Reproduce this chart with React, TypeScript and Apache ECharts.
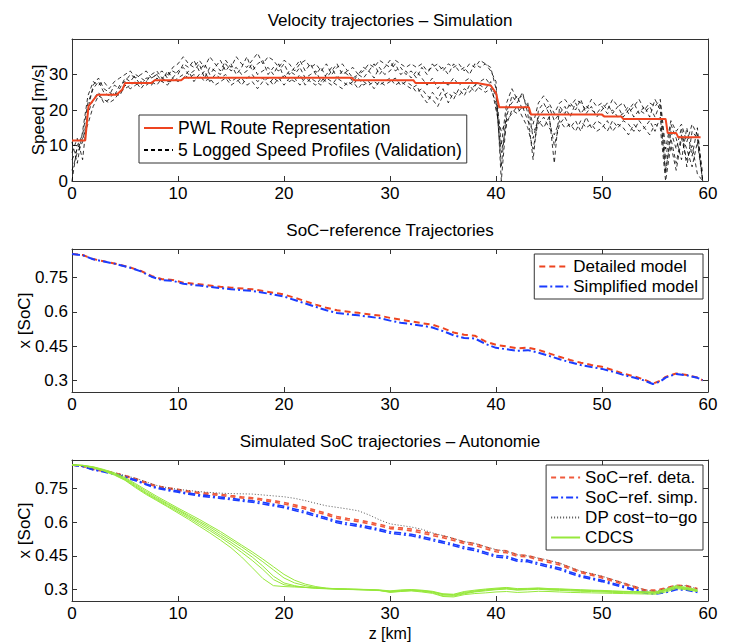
import React, { useEffect, useRef } from "react";
import * as echarts from "echarts";

const FONT = "'Liberation Sans', Arial, Helvetica, sans-serif";

// ---------- Top panel: velocity ----------
const pwlRoute: [number, number][] = [
  [0, 11.4], [1.25, 11.4], [1.55, 21], [2.4, 24.3], [4.2, 24.3], [4.75, 25.8], [5.0, 27.6],
  [7.5, 27.6], [7.8, 28.4], [10.3, 28.4], [10.6, 29.1], [26.4, 29.1], [26.6, 28.4],
  [32.2, 28.4], [32.4, 27.6], [38.2, 27.6], [39.5, 26.9], [40.0, 24.8], [40.3, 20.8],
  [43.1, 20.8], [43.3, 18.7], [50.0, 18.7], [50.2, 18.2], [51.8, 18.2], [52.0, 17.5],
  [56.0, 17.5], [56.2, 13.5], [57.0, 13.5], [57.2, 12.3], [59.3, 12.3],
];

const SPEED_STEP_KM = 0.5;
const speedA = [
  0, 10, 13, 22, 26, 28, 25, 24, 27, 26,
  29, 28, 30, 29, 28, 30, 31, 29, 30, 31,
  30, 33, 32, 34, 31, 33, 30, 32, 34, 31,
  33, 30, 32, 35, 31, 33, 34, 30, 32, 31,
  33, 30, 32, 34, 31, 33, 30, 32, 29, 31,
  33, 30, 31, 29, 30, 32, 31, 33, 30, 32,
  34, 31, 32, 30, 31, 29, 32, 30, 33, 31,
  32, 30, 33, 31, 32, 30, 33, 32, 33, 31,
  28, 0, 18, 24, 22, 25, 19, 6, 20, 22,
  19, 5, 21, 19, 22, 20, 23, 19, 21, 18,
  20, 22, 19, 21, 18, 20, 22, 19, 21, 18,
  23, 20, 2, 14, 9, 15, 4, 14, 12, 0,
];
const speedB = [
  3, 8, 11, 19, 23, 25, 22, 23, 25, 24,
  27, 26, 27, 28, 27, 28, 27, 29, 28, 28,
  29, 30, 29, 30, 29, 31, 28, 30, 29, 30,
  28, 29, 27, 29, 30, 28, 29, 27, 29, 28,
  30, 28, 29, 27, 29, 28, 27, 29, 28, 27,
  29, 28, 27, 28, 26, 28, 27, 28, 27, 28,
  29, 27, 28, 27, 26, 27, 24, 22, 25, 23,
  26, 22, 25, 24, 26, 25, 27, 26, 25, 26,
  22, 8, 16, 20, 19, 21, 17, 14, 16, 18,
  15, 13, 17, 15, 16, 14, 17, 15, 16, 14,
  15, 17, 14, 16, 15, 13, 16, 14, 15, 13,
  16, 15, 0, 10, 3, 12, 6, 10, 2, 0,
];
const speedC = [
  8, 12, 6, 20, 27, 29, 26, 25, 24, 27,
  28, 30, 29, 27, 29, 29, 30, 28, 31, 29,
  31, 32, 30, 31, 33, 29, 32, 31, 30, 33,
  31, 32, 30, 31, 33, 30, 31, 32, 30, 33,
  29, 31, 30, 32, 29, 30, 31, 28, 30, 32,
  29, 31, 30, 28, 30, 29, 31, 29, 32, 30,
  31, 33, 30, 31, 29, 31, 29, 27, 29, 26,
  28, 27, 29, 27, 28, 29, 27, 28, 29, 27,
  24, 4, 20, 22, 24, 20, 22, 12, 18, 20,
  21, 17, 19, 21, 18, 22, 19, 21, 20, 19,
  21, 19, 20, 18, 19, 21, 18, 20, 19, 21,
  18, 22, 6, 16, 12, 6, 15, 7, 15, 0,
];
const speedD = [
  11, 5, 14, 24, 28, 27, 28, 26, 28, 29,
  30, 31, 29, 30, 31, 29, 30, 31, 29, 32,
  33, 35, 33, 32, 34, 32, 35, 33, 31, 34,
  32, 35, 33, 32, 34, 36, 33, 35, 34, 32,
  34, 33, 31, 33, 34, 32, 33, 31, 33, 30,
  32, 33, 31, 32, 30, 31, 33, 32, 34, 33,
  32, 34, 33, 32, 33, 32, 33, 31, 32, 33,
  31, 33, 32, 33, 31, 33, 32, 34, 33, 32,
  26, 10, 22, 26, 23, 24, 21, 16, 22, 24,
  22, 19, 22, 23, 21, 23, 22, 20, 23, 21,
  22, 20, 23, 21, 22, 19, 21, 23, 20, 22,
  21, 23, 9, 17, 14, 16, 11, 16, 13, 2,
];
const speedE = [
  6, 9, 12, 16, 21, 24, 23, 22, 23, 25,
  26, 27, 28, 26, 28, 27, 29, 28, 27, 29,
  28, 29, 31, 28, 30, 28, 29, 27, 28, 29,
  27, 28, 29, 27, 28, 26, 28, 29, 27, 29,
  27, 29, 28, 30, 27, 29, 28, 27, 29, 28,
  27, 26, 28, 27, 29, 27, 28, 26, 28, 27,
  28, 29, 27, 28, 27, 25, 26, 24, 23, 21,
  24, 25, 23, 26, 24, 27, 25, 27, 26, 28,
  20, 14, 17, 19, 21, 18, 15, 9, 17, 15,
  18, 10, 16, 18, 15, 17, 14, 18, 15, 17,
  16, 14, 17, 15, 17, 16, 14, 17, 15, 17,
  14, 18, 3, 12, 5, 13, 9, 4, 11, 0,
];
const loggedProfiles = [speedA, speedB, speedC, speedD, speedE];

// ---------- Middle panel: SoC reference ----------
const refKm = [
  0, 1, 2, 4, 5.5, 6.5, 7.5, 8.5, 9.5, 10.5,
  12, 14, 15, 17, 19, 20, 21, 22, 23, 24,
  25, 27, 29, 30, 31, 33, 34, 35, 36, 37,
  38, 39, 40, 41, 42, 43, 44, 45, 46, 47,
  48, 49, 50, 51, 52, 53, 54, 54.8, 55.5, 56,
  57, 58, 59, 59.5,
];
const detailedModel = [
  0.853, 0.849, 0.831, 0.812, 0.794, 0.779, 0.757, 0.743, 0.740, 0.728,
  0.721, 0.710, 0.706, 0.699, 0.684, 0.676, 0.662, 0.647, 0.632, 0.618,
  0.607, 0.596, 0.584, 0.574, 0.566, 0.551, 0.544, 0.529, 0.510, 0.500,
  0.496, 0.471, 0.456, 0.449, 0.441, 0.444, 0.434, 0.419, 0.404, 0.390,
  0.378, 0.368, 0.360, 0.346, 0.331, 0.319, 0.304, 0.287, 0.299, 0.316,
  0.331, 0.324, 0.313, 0.301,
];
const simplifiedModel = [
  0.853, 0.848, 0.830, 0.811, 0.793, 0.777, 0.754, 0.739, 0.736, 0.723,
  0.715, 0.704, 0.699, 0.692, 0.676, 0.667, 0.652, 0.637, 0.622, 0.607,
  0.595, 0.585, 0.573, 0.562, 0.553, 0.540, 0.532, 0.516, 0.498, 0.486,
  0.484, 0.460, 0.443, 0.437, 0.430, 0.433, 0.422, 0.408, 0.393, 0.380,
  0.368, 0.359, 0.351, 0.339, 0.325, 0.313, 0.300, 0.285, 0.296, 0.313,
  0.329, 0.323, 0.312, 0.301,
];

// ---------- Bottom panel: simulated SoC (1 km samples) ----------
const SIM_STEP_KM = 1;
const socRefDeta1 = [
  0.853, 0.848, 0.835, 0.828, 0.818, 0.806, 0.793, 0.776, 0.760, 0.752,
  0.745, 0.737, 0.731, 0.727, 0.723, 0.717, 0.712, 0.708, 0.702, 0.695,
  0.687, 0.676, 0.665, 0.652, 0.639, 0.624, 0.616, 0.609, 0.600, 0.590,
  0.578, 0.574, 0.569, 0.559, 0.548, 0.538, 0.526, 0.512, 0.505, 0.490,
  0.476, 0.472, 0.455, 0.452, 0.439, 0.428, 0.417, 0.398, 0.381, 0.370,
  0.358, 0.344, 0.330, 0.315, 0.300, 0.298, 0.308, 0.320, 0.318, 0.305,
];
const socRefDeta2 = [
  0.853, 0.847, 0.833, 0.825, 0.815, 0.802, 0.789, 0.771, 0.756, 0.749,
  0.741, 0.733, 0.727, 0.722, 0.718, 0.712, 0.707, 0.703, 0.696, 0.689,
  0.680, 0.669, 0.658, 0.645, 0.632, 0.617, 0.609, 0.602, 0.593, 0.583,
  0.571, 0.567, 0.561, 0.551, 0.540, 0.530, 0.518, 0.505, 0.497, 0.482,
  0.468, 0.464, 0.448, 0.446, 0.432, 0.421, 0.410, 0.392, 0.375, 0.364,
  0.352, 0.338, 0.324, 0.310, 0.296, 0.293, 0.303, 0.315, 0.314, 0.302,
];
const socRefSimp1 = [
  0.853, 0.847, 0.833, 0.825, 0.814, 0.801, 0.787, 0.769, 0.753, 0.745,
  0.737, 0.728, 0.721, 0.716, 0.711, 0.705, 0.699, 0.694, 0.687, 0.679,
  0.670, 0.658, 0.646, 0.633, 0.619, 0.604, 0.595, 0.588, 0.579, 0.569,
  0.557, 0.552, 0.546, 0.536, 0.525, 0.514, 0.502, 0.489, 0.481, 0.466,
  0.452, 0.448, 0.433, 0.431, 0.418, 0.407, 0.396, 0.379, 0.363, 0.353,
  0.342, 0.329, 0.316, 0.303, 0.290, 0.284, 0.292, 0.305, 0.303, 0.292,
];
const socRefSimp2 = [
  0.853, 0.846, 0.831, 0.822, 0.811, 0.797, 0.783, 0.765, 0.749, 0.740,
  0.732, 0.723, 0.716, 0.710, 0.705, 0.699, 0.693, 0.688, 0.680, 0.672,
  0.663, 0.651, 0.639, 0.626, 0.612, 0.597, 0.588, 0.581, 0.572, 0.562,
  0.550, 0.545, 0.539, 0.529, 0.518, 0.507, 0.495, 0.482, 0.474, 0.459,
  0.445, 0.441, 0.426, 0.424, 0.411, 0.400, 0.389, 0.372, 0.357, 0.347,
  0.336, 0.323, 0.310, 0.298, 0.286, 0.280, 0.287, 0.300, 0.298, 0.288,
];
const dpCostToGo = [
  0.853, 0.848, 0.836, 0.829, 0.819, 0.806, 0.794, 0.778, 0.762, 0.752,
  0.745, 0.740, 0.735, 0.731, 0.728, 0.726, 0.725, 0.724, 0.720, 0.716,
  0.712, 0.705, 0.695, 0.683, 0.672, 0.665, 0.658, 0.650, 0.632, 0.610,
  0.592, 0.585, 0.578, 0.568, 0.552, 0.540, 0.527, 0.513, 0.505, 0.491,
  0.478, 0.470, 0.455, 0.450, 0.440, 0.430, 0.418, 0.400, 0.382, 0.371,
  0.360, 0.345, 0.330, 0.315, 0.300, 0.293, 0.305, 0.320, 0.318, 0.303,
];
const cdcs1 = [
  0.853, 0.850, 0.840, 0.826, 0.808, 0.785, 0.752, 0.722, 0.695, 0.668,
  0.640, 0.612, 0.582, 0.552, 0.520, 0.486, 0.445, 0.398, 0.350, 0.318,
  0.314, 0.312, 0.310, 0.308, 0.306, 0.305, 0.303, 0.302, 0.300, 0.297,
  0.290, 0.293, 0.295, 0.290, 0.284, 0.270, 0.268, 0.278, 0.283, 0.286,
  0.290, 0.292, 0.288, 0.290, 0.293, 0.292, 0.290, 0.288, 0.287, 0.286,
  0.285, 0.284, 0.283, 0.282, 0.281, 0.280, 0.290, 0.305, 0.300, 0.292,
];
const cdcs2 = [
  0.853, 0.851, 0.843, 0.830, 0.812, 0.790, 0.760, 0.730, 0.703, 0.678,
  0.652, 0.625, 0.598, 0.570, 0.540, 0.510, 0.478, 0.445, 0.405, 0.360,
  0.330, 0.318, 0.310, 0.306, 0.304, 0.302, 0.301, 0.300, 0.298, 0.296,
  0.292, 0.296, 0.298, 0.295, 0.290, 0.278, 0.275, 0.285, 0.292, 0.298,
  0.302, 0.305, 0.300, 0.302, 0.304, 0.301, 0.300, 0.298, 0.296, 0.295,
  0.293, 0.291, 0.290, 0.289, 0.288, 0.287, 0.298, 0.312, 0.305, 0.296,
];
const cdcs3 = [
  0.853, 0.852, 0.845, 0.833, 0.818, 0.797, 0.770, 0.742, 0.714, 0.688,
  0.662, 0.637, 0.612, 0.585, 0.558, 0.528, 0.498, 0.468, 0.436, 0.402,
  0.368, 0.342, 0.325, 0.314, 0.307, 0.304, 0.303, 0.302, 0.301, 0.299,
  0.295, 0.299, 0.301, 0.298, 0.293, 0.282, 0.280, 0.292, 0.298, 0.303,
  0.307, 0.310, 0.305, 0.306, 0.308, 0.305, 0.304, 0.302, 0.300, 0.298,
  0.297, 0.295, 0.293, 0.292, 0.291, 0.290, 0.302, 0.318, 0.310, 0.300,
];
const cdcs4 = [
  0.853, 0.850, 0.841, 0.828, 0.810, 0.787, 0.756, 0.726, 0.699, 0.672,
  0.646, 0.619, 0.590, 0.562, 0.532, 0.500, 0.466, 0.430, 0.390, 0.345,
  0.322, 0.315, 0.311, 0.308, 0.305, 0.303, 0.302, 0.300, 0.299, 0.297,
  0.288, 0.292, 0.296, 0.293, 0.287, 0.273, 0.272, 0.282, 0.290, 0.295,
  0.300, 0.303, 0.298, 0.300, 0.302, 0.299, 0.297, 0.295, 0.293, 0.292,
  0.290, 0.288, 0.287, 0.286, 0.285, 0.284, 0.295, 0.309, 0.303, 0.294,
];
const cdcs5 = [
  0.853, 0.851, 0.844, 0.831, 0.814, 0.793, 0.765, 0.736, 0.708, 0.682,
  0.656, 0.630, 0.604, 0.578, 0.549, 0.520, 0.490, 0.458, 0.424, 0.388,
  0.352, 0.330, 0.318, 0.310, 0.306, 0.304, 0.302, 0.301, 0.300, 0.298,
  0.293, 0.297, 0.299, 0.296, 0.291, 0.280, 0.278, 0.288, 0.295, 0.300,
  0.304, 0.308, 0.302, 0.304, 0.306, 0.303, 0.302, 0.300, 0.298, 0.297,
  0.295, 0.293, 0.292, 0.291, 0.289, 0.288, 0.300, 0.315, 0.307, 0.297,
];

const xTicks = { min: 0, max: 60, interval: 10 };
const speedTicks = [0, 10, 20, 30];
const socTicks = [0.3, 0.45, 0.6, 0.75];

const titles = [
  "Velocity trajectories \u2013 Simulation",
  "SoC\u2212reference Trajectories",
  "Simulated SoC trajectories \u2013 Autonomie",
];

const PWL_NAME = "PWL Route Representation";
const LOG_NAME = "5 Logged Speed Profiles (Validation)";
const DET_NAME = "Detailed model";
const SIMP_NAME = "Simplified model";
const SD_NAME = "SoC\u2212ref. deta.";
const SS_NAME = "SoC\u2212ref. simp.";
const DP_NAME = "DP cost\u2212to\u2212go";
const CD_NAME = "CDCS";

const RED = "#ee4420";
const BLUE = "#1a3cff";
const GREEN = "#97e83c";

function onGrid(values: number[], step: number): [number, number][] {
  return values.map((v, i) => [i * step, v]);
}
function zipXY(xs: number[], ys: number[]): [number, number][] {
  return xs.map((x, i) => [x, ys[i]]);
}

export default function App() {
  const ref = useRef<HTMLDivElement>(null);

  useEffect(() => {
    document.body.style.margin = "0";
    if (!ref.current) return;
    const chart = echarts.init(ref.current, undefined, { renderer: "svg" });

    const grids = [
      { left: 72, right: 28, top: 39, height: 142 },
      { left: 72, right: 28, top: 249, height: 143 },
      { left: 72, right: 28, top: 460, height: 141 },
    ];

    const axisLineStyle = { color: "#333", width: 1 };
    const labelStyle = { color: "#000", fontSize: 17, fontFamily: FONT };
    const nameStyle = { color: "#000", fontSize: 17, fontFamily: FONT };

    const xAxis: any[] = [];
    const yAxis: any[] = [];
    grids.forEach((_, gi) => {
      const base = {
        type: "value",
        gridIndex: gi,
        ...xTicks,
        axisLine: { show: true, onZero: false, lineStyle: axisLineStyle },
        axisTick: { show: true, inside: true, length: 5, lineStyle: axisLineStyle },
        splitLine: { show: false },
      };
      xAxis.push({
        ...base,
        position: "bottom",
        axisLabel: { ...labelStyle, margin: 4 },
        name: gi === 2 ? "z [km]" : "",
        nameLocation: "middle",
        nameGap: 24,
        nameMoveOverlap: false,
        nameTextStyle: { ...nameStyle, fontSize: 16 },
      });
      xAxis.push({ ...base, position: "top", axisLabel: { show: false } });

      const ticks = gi === 0 ? speedTicks : socTicks;
      const ybase = {
        type: "value",
        gridIndex: gi,
        min: gi === 0 ? 0 : 0.25,
        max: gi === 0 ? 40 : 0.875,
        axisLine: { show: true, onZero: false, lineStyle: axisLineStyle },
        axisTick: { show: true, inside: true, length: 5, lineStyle: axisLineStyle, customValues: ticks },
        splitLine: { show: false },
      };
      yAxis.push({
        ...ybase,
        position: "left",
        axisLabel: { ...labelStyle, margin: 4, customValues: ticks },
        name: gi === 0 ? "Speed [m/s]" : "x [SoC]",
        nameLocation: "middle",
        nameGap: gi === 0 ? 25 : 39,
        nameMoveOverlap: false,
        nameTextStyle: { ...nameStyle },
      });
      yAxis.push({ ...ybase, position: "right", axisLabel: { show: false } });
    });

    const line = (name: string, gi: number, data: [number, number][], style: any, z = 2) => ({
      type: "line",
      name,
      xAxisIndex: gi * 2,
      yAxisIndex: gi * 2,
      data,
      symbol: "none",
      showSymbol: false,
      clip: true,
      z,
      lineStyle: style,
      itemStyle: { color: style.color, opacity: 0 },
      emphasis: { disabled: true },
    });

    const series: any[] = [];
    loggedProfiles.forEach((p) =>
      series.push(line(LOG_NAME, 0, onGrid(p, SPEED_STEP_KM), { color: "#000", width: 0.8, type: [4, 3] }))
    );
    series.push(line(PWL_NAME, 0, pwlRoute, { color: RED, width: 2, type: "solid" }, 3));

    series.push(line(DET_NAME, 1, zipXY(refKm, detailedModel), { color: RED, width: 2, type: [6, 4] }));
    series.push(line(SIMP_NAME, 1, zipXY(refKm, simplifiedModel), { color: BLUE, width: 2, type: [8, 3, 2, 3] }));

    [socRefDeta1, socRefDeta2].forEach((d) =>
      series.push(line(SD_NAME, 2, onGrid(d, SIM_STEP_KM), { color: "#f05a3c", width: 1.6, type: [5, 4] }))
    );
    [socRefSimp1, socRefSimp2].forEach((d) =>
      series.push(line(SS_NAME, 2, onGrid(d, SIM_STEP_KM), { color: BLUE, width: 1.6, type: [7, 3, 2, 3] }))
    );
    series.push(line(DP_NAME, 2, onGrid(dpCostToGo, SIM_STEP_KM), { color: "#555", width: 1, type: [1, 2] }));
    [cdcs1, cdcs2, cdcs3, cdcs4, cdcs5].forEach((d) =>
      series.push(line(CD_NAME, 2, onGrid(d, SIM_STEP_KM), { color: GREEN, width: 1, type: "solid" }))
    );

    const legendBase = {
      orient: "vertical",
      itemWidth: 29,
      itemHeight: 12,
      itemGap: 3,
      padding: [4, 5, 4, 4],
      backgroundColor: "#fff",
      borderColor: "#333",
      borderWidth: 1,
      borderRadius: 0,
      selectedMode: false,
      itemStyle: { opacity: 0, borderWidth: 0 },
      textStyle: { color: "#000", fontSize: 17, fontFamily: FONT },
      z: 10,
    };

    const graphic = titles.map((t, i) => ({
      type: "text",
      x: 390,
      y: [20, 230, 441][i],
      style: {
        text: t,
        fill: "#000",
        fontSize: 17,
        fontFamily: FONT,
        textAlign: "center",
        textVerticalAlign: "middle",
      },
      z: 20,
    }));

    chart.setOption({
      animation: false,
      backgroundColor: "#fff",
      grid: grids,
      xAxis,
      yAxis,
      legend: [
        {
          ...legendBase,
          data: [PWL_NAME, LOG_NAME],
          left: 139,
          top: 115,
          itemGap: 4,
          textStyle: { ...legendBase.textStyle, fontSize: 17.5 },
        },
        { ...legendBase, data: [DET_NAME, SIMP_NAME], right: 33, top: 254 },
        { ...legendBase, data: [SD_NAME, SS_NAME, DP_NAME, CD_NAME], right: 33, top: 465 },
      ],
      graphic,
      series,
    });

    return () => chart.dispose();
  }, []);

  return <div ref={ref} style={{ width: 736, height: 642 }} />;
}
